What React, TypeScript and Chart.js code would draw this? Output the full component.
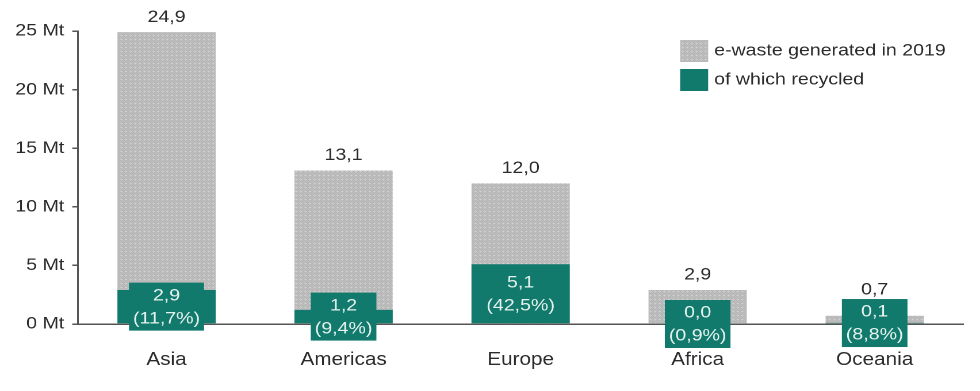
import React, { useEffect, useRef } from 'react';
import { Chart, registerables } from 'chart.js';

Chart.register(...registerables);

const regions = ['Asia', 'Americas', 'Europe', 'Africa', 'Oceania'];
const generated = [24.9, 13.1, 12.0, 2.9, 0.7];
const recycled = [2.9, 1.2, 5.1, 0.0, 0.1];
const recycledShare = ['11,7%', '9,4%', '42,5%', '0,9%', '8,8%'];
const yTicks = [0, 5, 10, 15, 20, 25];
const seriesNames = ['e-waste generated in 2019', 'of which recycled'];

const W = 980;
const H = 391;
const SX = 1.15;
const IW = Math.round(W / SX);
const TEAL = '#117a6c';
const TEXT = '#2b2b2b';
const FONT = '"Liberation Sans", Arial, sans-serif';
const fmt = (v: number) => v.toFixed(1).replace('.', ',');

function makePattern(): CanvasPattern | string {
  const c = document.createElement('canvas');
  c.width = 4;
  c.height = 4;
  const g = c.getContext('2d');
  if (!g) return '#c6c6c6';
  g.fillStyle = '#d3d3d3';
  g.fillRect(0, 0, 4, 4);
  g.fillStyle = '#a2a2a2';
  const dots = [[0, 0], [2, 0], [1, 1], [0, 2], [2, 2], [3, 3], [3, 1]];
  dots.forEach(([x, y]) => g.fillRect(x, y, 1, 1));
  const t = document.createElement('canvas').getContext('2d');
  const p = t ? t.createPattern(c, 'repeat') : null;
  return p || '#c6c6c6';
}

const labelPlugin = {
  id: 'customLabels',
  afterDatasetsDraw(chart: any) {
    const ctx = chart.ctx as CanvasRenderingContext2D;
    const m0 = chart.getDatasetMeta(0);
    const m1 = chart.getDatasetMeta(1);
    ctx.save();
    ctx.font = `17px ${FONT}`;
    ctx.textAlign = 'center';
    ctx.textBaseline = 'middle';
    recycled.forEach((v, i) => {
      const bar = m1.data[i] as any;
      const cy = (bar.base + bar.y) / 2;
      const l1 = fmt(v);
      const l2 = `(${recycledShare[i]})`;
      const tw = Math.max(ctx.measureText(l1).width, ctx.measureText(l2).width) + 7;
      const bh = 48;
      ctx.fillStyle = TEAL;
      ctx.fillRect(bar.x - tw / 2, cy - bh / 2, tw, bh);
      ctx.fillStyle = '#e6f2ef';
      ctx.fillText(l1, bar.x, cy - 11);
      ctx.fillText(l2, bar.x, cy + 12);
      const gb = m0.data[i] as any;
      const ly = Math.min(gb.y - 15, cy - bh / 2 - 9);
      ctx.fillStyle = TEXT;
      ctx.fillText(fmt(generated[i]), gb.x, ly);
    });
    // legend
    const lx = 680 / SX;
    const bw = 28 / SX;
    const pattern = chart.data.datasets[0].backgroundColor;
    ctx.fillStyle = pattern;
    ctx.fillRect(lx, 40, bw, 22);
    ctx.fillStyle = TEAL;
    ctx.fillRect(lx, 69, bw, 22);
    ctx.fillStyle = TEXT;
    ctx.textAlign = 'left';
    ctx.fillText(seriesNames[0], 714 / SX, 51);
    ctx.fillText(seriesNames[1], 714 / SX, 80);
    ctx.restore();
  },
};

export default function App() {
  const ref = useRef<HTMLCanvasElement | null>(null);
  useEffect(() => {
    if (!ref.current) return;
    const pattern = makePattern();
    const chart = new Chart(ref.current, {
      type: 'bar',
      data: {
        labels: regions,
        datasets: [
          {
            label: seriesNames[0],
            data: generated,
            backgroundColor: pattern as any,
            borderWidth: 0,
            order: 2,
            grouped: false,
            barPercentage: 0.555,
            categoryPercentage: 1,
          } as any,
          {
            label: seriesNames[1],
            data: recycled,
            backgroundColor: TEAL,
            borderWidth: 0,
            order: 1,
            grouped: false,
            barPercentage: 0.555,
            categoryPercentage: 1,
          } as any,
        ],
      },
      options: {
        responsive: false,
        animation: false,
        devicePixelRatio: 2,
        layout: { padding: { top: 31, right: IW - 963 / SX, left: 0, bottom: 0 } },
        plugins: { legend: { display: false }, tooltip: { enabled: false } },
        scales: {
          x: {
            grid: { display: false, drawTicks: false },
            border: { display: true, color: '#555555', width: 1.5 },
            ticks: { font: { size: 18, family: FONT }, color: TEXT, padding: 25 },
            afterFit(s: any) {
              s.height = 67;
            },
          },
          y: {
            min: 0,
            max: 25,
            afterBuildTicks(s: any) {
              s.ticks = yTicks.map((v) => ({ value: v }));
            },
            ticks: {
              callback: (v: any) => `${v} Mt`,
              font: { size: 17, family: FONT },
              color: TEXT,
              padding: 7,
            },
            grid: { drawOnChartArea: false, drawTicks: true, tickLength: 5, color: '#555555', lineWidth: 1.5 },
            border: { display: true, color: '#555555', width: 1.5 },
            afterFit(s: any) {
              s.width = 78 / SX;
            },
          },
        },
      } as any,
      plugins: [labelPlugin],
    });
    return () => chart.destroy();
  }, []);
  return (
    <div style={{ position: 'absolute', left: 0, top: 0, width: W, height: H, background: '#fff' }}>
      <canvas ref={ref} width={IW} height={H} style={{ width: `${W}px`, height: `${H}px`, display: 'block' }} />
    </div>
  );
}
